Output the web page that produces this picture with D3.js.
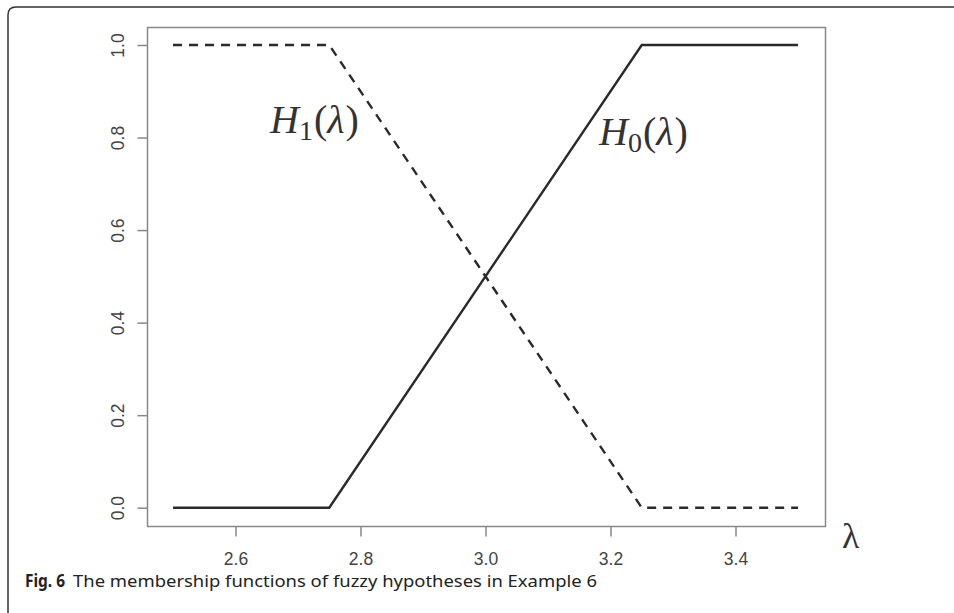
<!DOCTYPE html>
<html>
<head>
<meta charset="utf-8">
<script src="https://cdn.jsdelivr.net/npm/d3@7"></script>
<style>
  body { margin: 0; background: #fff; }
  svg { display: block; }
</style>
</head>
<body>
<script>
// Data.
var lambdaValues = [2.5, 2.75, 3.25, 3.5];
var h0Values = [0, 0, 1, 1];
var h1Values = [1, 1, 0, 0];
var xTicks = [2.6, 2.8, 3.0, 3.2, 3.4];
var yTicks = [0.0, 0.2, 0.4, 0.6, 0.8, 1.0];
var captionBold = "Fig. 6";
var captionText = "The membership functions of fuzzy hypotheses in Example 6";

var width = 954, height = 613;

var svg = d3.select("body").append("svg")
  .attr("width", width).attr("height", height);

// Outer figure frame (top rule + left rule with rounded corner).
svg.append("path")
  .attr("d", "M8,613 L8,15 Q8,7 16,7 L954,7")
  .attr("fill", "none").attr("stroke", "#333").attr("stroke-width", 1.5);

// Plot box.
var box = { left: 147.5, top: 27.5, right: 825.5, bottom: 526.5 };

//Scales.
var x = d3.scaleLinear().domain([2.5, 3.5]).range([173, 798]);
var y = d3.scaleLinear().domain([0, 1]).range([507.7, 45]);

svg.append("rect")
  .attr("x", box.left).attr("y", box.top)
  .attr("width", box.right - box.left).attr("height", box.bottom - box.top)
  .attr("fill", "none").attr("stroke", "#888").attr("stroke-width", 1.5);

var tickFont = "'Liberation Sans', Arial, sans-serif";

// X axis.
var xAxis = svg.append("g")
  .attr("transform", "translate(0," + box.bottom + ")")
  .call(d3.axisBottom(x).tickValues(xTicks).tickSize(10).tickPadding(14).tickFormat(d3.format(".1f")));
xAxis.attr("font-size", null).attr("font-family", null);
xAxis.select(".domain").remove();
xAxis.selectAll(".tick line").attr("stroke", "#888").attr("stroke-width", 1.5);
xAxis.selectAll(".tick text")
  .attr("fill", "#444").attr("font-family", tickFont).attr("font-size", 17.5)
  .attr("dy", null).attr("y", 38);

// Y axis, labels turned like R's default.
var yAxis = svg.append("g")
  .attr("transform", "translate(" + box.left + ",0)")
  .call(d3.axisLeft(y).tickValues(yTicks).tickSize(10).tickFormat(d3.format(".1f")));
yAxis.attr("font-size", null).attr("font-family", null);
yAxis.select(".domain").remove();
yAxis.selectAll(".tick line").attr("stroke", "#888").attr("stroke-width", 1.5);
yAxis.selectAll(".tick text")
  .attr("fill", "#444").attr("font-family", tickFont).attr("font-size", 17.5)
  .attr("x", null).attr("dy", null)
  .attr("text-anchor", "middle")
  .attr("transform", "translate(-24,0) rotate(-90)");

// Membership lines.
var line = d3.line()
  .x(function(d, i) { return x(lambdaValues[i]); })
  .y(function(d) { return y(d); });

svg.append("path")
  .datum(h0Values)
  .attr("d", line)
  .attr("fill", "none").attr("stroke", "#2a2a2a").attr("stroke-width", 2.4);

svg.append("path")
  .datum(h1Values)
  .attr("d", line)
  .attr("fill", "none").attr("stroke", "#2a2a2a").attr("stroke-width", 2.4)
  .attr("stroke-dasharray", "9,7");

// Math labels.
function mathLabel(px, py, sub) {
  var t = svg.append("text")
    .attr("x", px).attr("y", py)
    .attr("fill", "#333")
    .style("font-family", "'Liberation Serif', 'Times New Roman', serif")
    .style("font-size", "40px");
  t.append("tspan").style("font-style", "italic").text("H");
  t.append("tspan").attr("dy", 7).style("font-size", "28px").text(sub);
  t.append("tspan").attr("dy", -7).attr("dx", 1).text("(");
  t.append("tspan").style("font-style", "italic").text("λ");
  t.append("tspan").attr("dx", 1).text(")");
}
mathLabel(270, 133, "1");
mathLabel(599, 145, "0");

// Axis label.
svg.append("text")
  .attr("x", 842).attr("y", 548)
  .attr("fill", "#333")
  .style("font-family", "'Liberation Serif', 'Times New Roman', serif")
  .style("font-size", "36px")
  .text("λ");

// Caption.
var cap = svg.append("text")
  .attr("x", 25).attr("y", 587)
  .attr("fill", "#222")
  .style("font-family", "'Noto Sans', 'Open Sans', sans-serif")
  .style("font-size", "17px");
cap.append("tspan").style("font-weight", "bold")
  .attr("textLength", 40).attr("lengthAdjust", "spacingAndGlyphs").text(captionBold);
cap.append("tspan").attr("x", 73).text(captionText)
  .attr("textLength", 524).attr("lengthAdjust", "spacingAndGlyphs");
</script>
</body>
</html>
